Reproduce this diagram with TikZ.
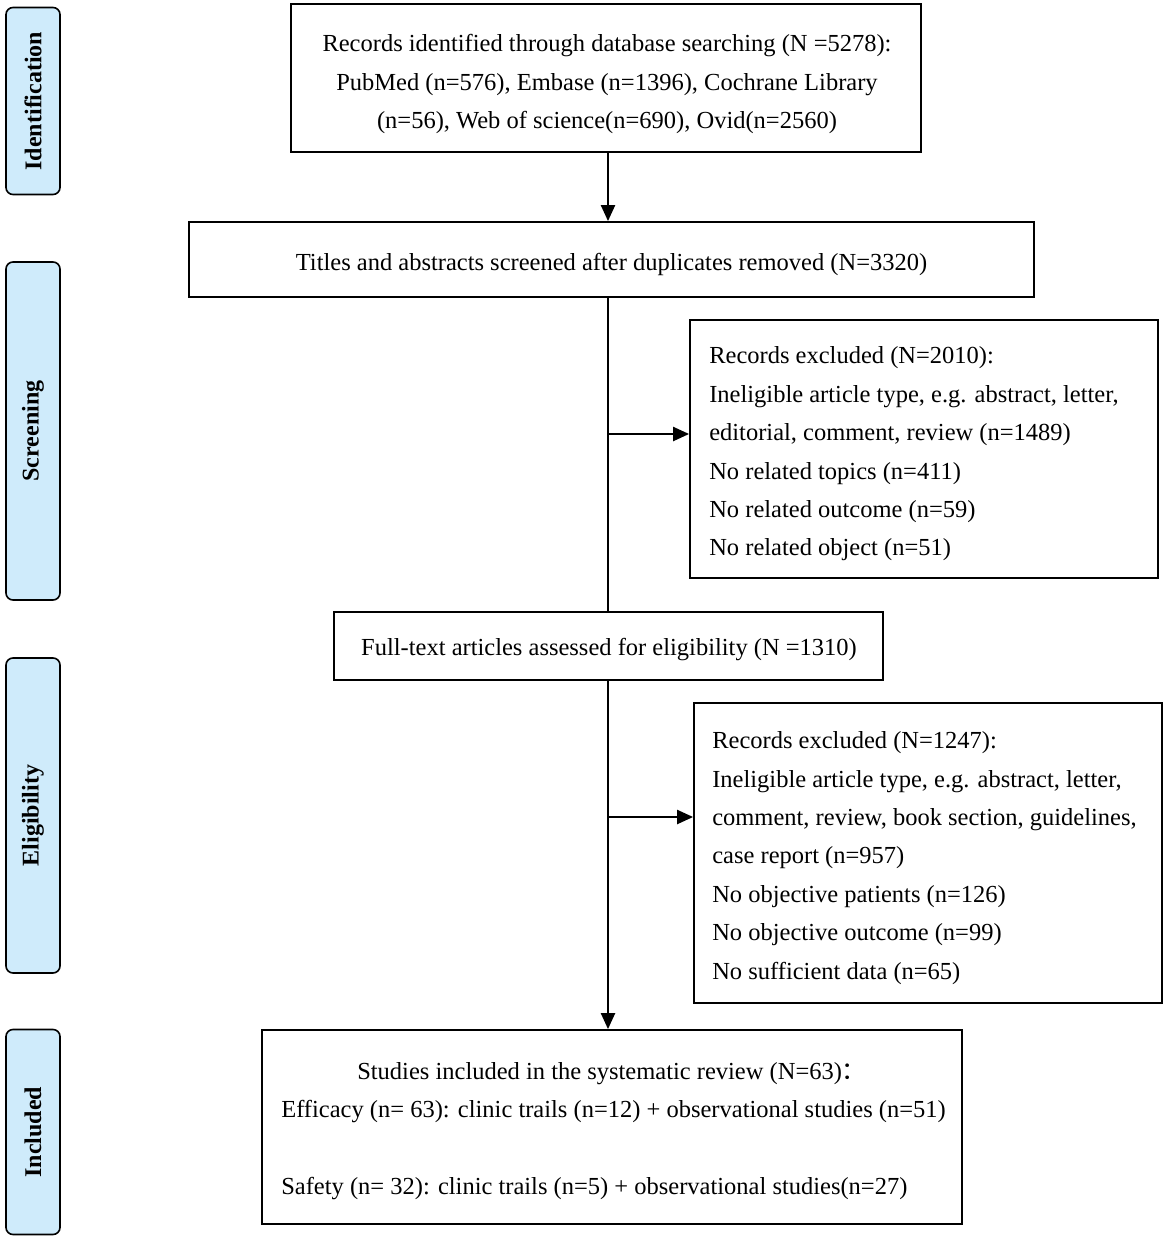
\documentclass[tikz,border=0pt]{standalone}
\usepackage{fontspec}
\setmainfont{Liberation Serif}
\newfontfamily\cjk{Noto Sans CJK SC}
\usetikzlibrary{arrows.meta}
\definecolor{sidefill}{HTML}{CFEBFB}
\tikzset{
  box/.style={draw=black, line width=1.8pt, fill=white, inner sep=0pt},
  txt/.style={inner sep=0pt, font=\fontsize{24.5}{38.4}\selectfont},
  side/.style={draw=black, line width=1.6pt, fill=sidefill, rounded corners=7pt,
    rotate=90, minimum height=54pt, inner sep=0pt,
    font=\fontsize{24}{28}\selectfont\bfseries},
  arr/.style={line width=2.2pt, -{Triangle[length=16pt,width=14pt]}},
  ln/.style={line width=2.2pt}
}
\begin{document}
\begin{tikzpicture}[x=1pt,y=-1pt]
\useasboundingbox (0,0) rectangle (1170,1245);
% side labels
\node[side, minimum width=187pt] (sid) at (33,101) {Identification};
\node[side, minimum width=338pt] (ssc) at (33,431) {Screening};
\node[side, minimum width=315pt] (sel) at (33,815.5) {Eligibility};
\node[side, minimum width=205pt] (sin) at (33,1132) {Included};
% boxes
\node[box, minimum width=630pt, minimum height=148pt] (b1) at (606,78) {};
\node[txt, align=center] (b1t) at (607,84) {Records identified through database searching (N =5278):\\
PubMed (n=576), Embase (n=1396), Cochrane Library\\
(n=56), Web of science(n=690), Ovid(n=2560)};
\node[box, minimum width=845pt, minimum height=75pt] (b2) at (611.5,259.5) {};
\node[txt] (b2t) at (611.5,264) {Titles and abstracts screened after duplicates removed (N=3320)};
\node[box, minimum width=468pt, minimum height=258pt] (ex1) at (924,449) {};
\node[txt, anchor=west, align=left] (ex1t) at ([xshift=20pt,yshift=-5pt]ex1.west) {Records excluded (N=2010):\\
Ineligible article type, e.g. abstract, letter,\\
editorial, comment, review (n=1489)\\
No related topics (n=411)\\
No related outcome (n=59)\\
No related object (n=51)};
\node[box, minimum width=549pt, minimum height=68pt] (b3) at (608.5,646) {};
\node[txt] (b3t) at (609,650) {Full-text articles assessed for eligibility (N =1310)};
\node[box, minimum width=468pt, minimum height=300pt] (ex2) at (928,853) {};
\node[txt, anchor=west, align=left] (ex2t) at ([xshift=19pt,yshift=-5pt]ex2.west) {Records excluded (N=1247):\\
Ineligible article type, e.g. abstract, letter,\\
comment, review, book section, guidelines,\\
case report (n=957)\\
No objective patients (n=126)\\
No objective outcome (n=99)\\
No sufficient data (n=65)};
\node[box, minimum width=700pt, minimum height=194pt] (b4) at (612,1127) {};
\node[txt, anchor=west, align=left] (b4t) at ([xshift=20pt,yshift=-4pt]b4.west) {\hspace*{76pt}Studies included in the systematic review (N=63){\cjk ：}\\
Efficacy (n= 63): clinic trails (n=12) + observational studies (n=51)\\[38.4pt]
Safety (n= 32): clinic trails (n=5) + observational studies(n=27)};
% connectors
\coordinate (x0) at (608,0);
\draw[arr] (x0 |- b1.south) -- (x0 |- b2.north);
\draw[ln] (x0 |- b2.south) -- (x0 |- b3.north);
\coordinate (j1) at (x0 |- 0,434);
\draw[arr] (j1) -- (ex1.west |- j1);
\draw[arr] (x0 |- b3.south) -- (x0 |- b4.north);
\coordinate (j2) at (x0 |- 0,817);
\draw[arr] (j2) -- (ex2.west |- j2);
\end{tikzpicture}
\end{document}
